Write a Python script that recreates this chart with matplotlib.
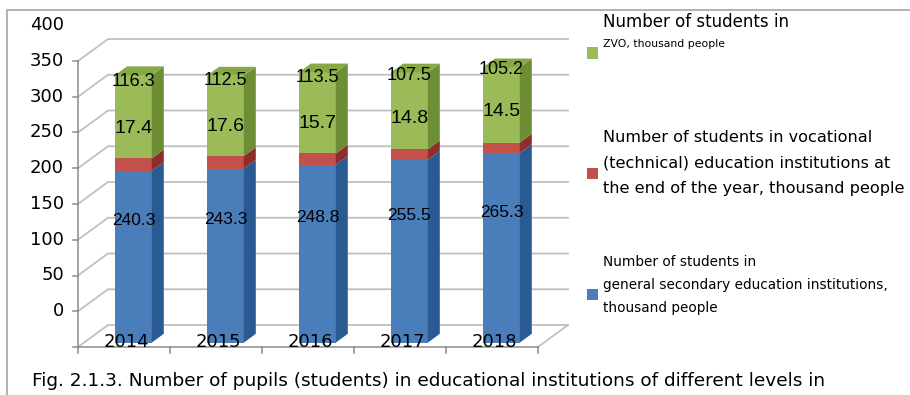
import numpy as np
import matplotlib.pyplot as plt
from matplotlib.patches import Polygon, Rectangle

plt.rcParams['font.family'] = ['DejaVu Sans']
BAR_FONT = ['Liberation Sans', 'DejaVu Sans']

years = ['2014', '2015', '2016', '2017', '2018']
secondary = [240.3, 243.3, 248.8, 255.5, 265.3]
vocational = [17.4, 17.6, 15.7, 14.8, 14.5]
zvo = [116.3, 112.5, 113.5, 107.5, 105.2]
y_ticks = list(range(0, 401, 50))

legend_green = ['Number of students in', 'ZVO, thousand people']
legend_red = ['Number of students in vocational',
              '(technical) education institutions at',
              'the end of the year, thousand people']
legend_blue = ['Number of students in',
               'general secondary education institutions,',
               'thousand people']
caption = ('Fig. 2.1.3. Number of pupils (students) in educational '
           'institutions of different levels in')

W, H = 910, 395
x0_px, floor_px = 78, 347      # front-left corner of the floor
cat_px = 92                    # width of one category
val_px = 0.715                 # pixels per thousand people
depth_dx, depth_dy = 30, 22    # full depth offset of the 3d box

fig = plt.figure(figsize=(W / 100, H / 100), dpi=100)
ax = fig.add_axes([0, 0, 1, 1])
ax.set_xlim(-x0_px / cat_px, (W - x0_px) / cat_px)
ax.set_ylim(-(H - floor_px) / val_px, floor_px / val_px)
ax.axis('off')

DX = depth_dx / cat_px
DY = depth_dy / val_px
n = len(years)


def proj(c, v, d):
    # category, value, depth (0 front .. 1 back) -> axes data coords
    return c + d * DX, v + d * DY


# back wall + left wall gridlines
grid_c = '#C0C0C0'
for v in y_ticks:
    xa, ya = proj(0, v, 0)
    xb, yb = proj(0, v, 1)
    xc, yc = proj(n, v, 1)
    ax.plot([xa, xb, xc], [ya, yb, yc], color=grid_c, lw=1.3, zorder=1)

# floor right edge and front axes
axis_c = '#8C8C8C'
xa, ya = proj(n, 0, 0)
xb, yb = proj(n, 0, 1)
ax.plot([xa, xb], [ya, yb], color=grid_c, lw=1.3, zorder=1)
ax.plot([0, n], [0, 0], color=axis_c, lw=1.1, zorder=2)
ax.plot([0, 0], [0, y_ticks[-1]], color=axis_c, lw=1.1, zorder=2)
for v in y_ticks:
    ax.plot([-5 / cat_px, 0], [v, v], color=axis_c, lw=1.1, zorder=2)
for i in range(n + 1):
    ax.plot([i, i], [0, -6 / val_px], color=axis_c, lw=1.1, zorder=2)

# 3d stacked bars
d0, d1 = 0.2, 0.6
left_off, bar_w = 0.337, 0.40
xs = np.arange(n)
series = [
    (secondary, '#4A7EBB', '#2A5A92'),
    (vocational, '#C4504C', '#8E2D2A'),
    (zvo, '#9BBB59', '#6E8E35'),
]
top_c = '#86A845'
bottom = np.zeros(n)
for vals, front_c, side_c in series:
    vals = np.array(vals)
    bx, by = proj(xs + left_off, bottom, d0)
    ax.bar(bx, vals, width=bar_w, bottom=by, align='edge',
           color=front_c, lw=0, zorder=3)
    for i in range(n):
        xr = xs[i] + left_off + bar_w
        lo, hi = bottom[i], bottom[i] + vals[i]
        ax.add_patch(Polygon([proj(xr, lo, d0), proj(xr, lo, d1),
                              proj(xr, hi, d1), proj(xr, hi, d0)],
                             closed=True, facecolor=side_c, lw=0, zorder=3))
    bottom += vals

for i in range(n):
    xl = xs[i] + left_off
    xr = xl + bar_w
    t = bottom[i]
    ax.add_patch(Polygon([proj(xl, t, d0), proj(xl, t, d1),
                          proj(xr, t, d1), proj(xr, t, d0)],
                         closed=True, facecolor=top_c, lw=0, zorder=3))

# value labels (drawn raised above segment centres)
shift = 50
base = np.zeros(n)
for vals, fs in [(secondary, 12.5), (vocational, 14), (zvo, 13)]:
    vals = np.array(vals)
    for i in range(n):
        tx, ty = proj(xs[i] + left_off + bar_w / 2, base[i] + vals[i] / 2 + shift, d0)
        ax.text(tx, ty, f'{vals[i]:.1f}', ha='center', va='center',
                fontsize=fs, family=BAR_FONT, color='black', zorder=5)
    base += vals

# axis labels
for v in y_ticks:
    ax.text(-14 / cat_px, v + shift, str(v), ha='right', va='center',
            fontsize=13, zorder=5)
for i, yr in enumerate(years):
    ax.text(i + 0.53, 7, yr, ha='center', va='center', fontsize=13, zorder=5)


def fx(px):
    return px / W


def fy(py):
    return 1 - py / H


# frame around the chart area
fig.add_artist(Rectangle((fx(7), fy(H + 5)), (W + 5 - 7) / W, (H + 5 - 10) / H,
                         transform=fig.transFigure, fill=False,
                         edgecolor='#A6A6A6', lw=1.2))

# legend
sq = 11
for py, color in [(53, '#9BBB59'), (173, '#C0504D'), (294, '#4A7EBB')]:
    fig.add_artist(Rectangle((fx(587), fy(py + sq / 2)), sq / W, sq / H,
                             transform=fig.transFigure, color=color, lw=0))

fig.text(fx(603), fy(22), legend_green[0], fontsize=12, va='center')
fig.text(fx(603), fy(44), legend_green[1], fontsize=7.8, va='center')
for j, line in enumerate(legend_red):
    fig.text(fx(603), fy(138 + 25 * j), line, fontsize=11.6, va='center')
for py, line in zip([262, 285, 308], legend_blue):
    fig.text(fx(603), fy(py), line, fontsize=9.8, va='center')

fig.text(fx(32), fy(381), caption, fontsize=13.3, va='center')

fig.savefig('out.png', dpi=100)
